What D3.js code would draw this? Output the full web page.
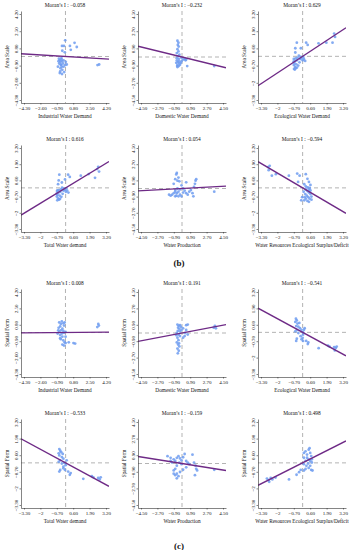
<!DOCTYPE html>
<html>
<head>
<meta charset="utf-8">
<script src="https://cdn.jsdelivr.net/npm/d3@7"></script>
<style>
  body { margin: 0; background: #fff; }
  svg text { font-family: "Liberation Serif", "Times New Roman", serif; fill: #111; }
  .axis path, .axis line { stroke: #333; stroke-width: 0.6; }
</style>
</head>
<body>
<div id="chart"></div>
<script>
// x variables, y variables and Moran's I values
var xNames = ["Industrial Water Demand", "Domestic Water Demand", "Ecological Water Demand",
  "Total Water demand", "Water Production", "Water Resources Ecological Surplus/Deficit"];
var yNames = ["Area Scale", "Spatial Form"];
var moranB = [-0.058, -0.232, 0.629, 0.616, 0.054, -0.594];
var moranC = [0.008, 0.191, -0.541, -0.533, -0.159, 0.498];

// tick values and their printed labels
var ticksA = [-4.3, -2.6, -0.9, 0.8, 2.5, 4.2];
var labelsA = ["\u22124.30", "\u22122.60", "\u22120.90", "0.80", "2.50", "4.20"];
var ticksB = [-4.5, -2.7, -0.9, 0.9, 2.7, 4.5];
var labelsB = ["\u22124.50", "\u22122.70", "\u22120.90", "0.90", "2.70", "4.50"];
var ticksC = [-3.3, -2, -0.7, 0.6, 1.9, 3.2];
var labelsC = ["\u22123.30", "\u22122", "\u22120.70", "0.60", "1.90", "3.20"];

// (b) Area Scale
var b_industrial = [[-0.36,1.04],[-0.16,1.04],[-0.03,1.6],[-0.33,0.57],[-0.07,0.41],[0.46,1.04],[0.55,0.66],
  [0.94,1.35],[1.17,0.94],[3.32,-0.85],[3.49,-0.79],[-0.68,-0.22],[-0.59,-0.38],[-0.52,-0.53],[-0.42,-0.28],
  [-0.65,-0.69],[-0.46,-0.85],[-0.36,-0.47],[-0.26,-0.69],[-0.78,-1.01],[-0.52,-1.16],[-0.33,-1.32],[-0.2,-1.01],
  [-0.03,-0.85],[0.13,-0.79],[-0.59,-1.64],[-0.36,-1.73],[-0.13,-1.54],[-0.42,-0.16],[-0.2,-0.38],[0.03,-0.53],
  [-0.55,-1.48],[-0.39,-1.01],[-0.72,-0.47],[-0.49,-0.79]];
var b_domestic = [[-0.5,1.7],[-0.39,1.5],[-0.46,1.26],[-0.36,1.09],[-0.5,0.82],[-0.39,0.58],[-0.57,0.41],
  [-0.29,0.24],[-0.46,0.07],[-0.36,-0.2],[-0.57,-0.37],[-0.43,-0.54],[-0.29,-0.68],[-0.5,-0.82],[-0.36,-0.95],
  [-0.22,-0.82],[-0.12,-0.61],[-0.05,-0.44],[0.12,-0.27],[0.29,-0.2],[0.39,-0.34],[0.46,-0.27],[0.57,-0.95],
  [-0.05,-0.1],[-0.57,-0.14],[-0.63,-0.61],[-0.53,-0.95],[-0.33,-0.44],[3.54,-0.95],[-0.5,-1.05]];
var b_ecological = [[2.5,1.72],[2.57,1.47],[2.37,1.03],[1.88,1.03],[1.26,0.98],[0.28,1.03],[0.4,0.86],
  [-0.46,1.03],[-0.58,0.61],[-0.14,0.61],[-0.58,0.29],[-0.7,-0.2],[-0.6,-0.35],[-0.65,-0.5],[-0.7,-0.65],
  [-0.6,-0.8],[-0.68,-0.95],[-0.55,-0.9],[-0.5,-0.6],[-0.45,-0.3],[-0.4,-0.1],[-0.3,0.05],[-0.2,-0.2],
  [-0.1,-0.15],[0,-0.3],[0.1,-0.2],[0.2,-0.35],[-0.25,-0.45],[-0.35,-0.7],[-0.55,-0.15],[-0.15,-0.05],
  [0.05,-0.05],[-0.45,-0.85],[-0.62,-1.0],[-0.72,-0.4]];
var b_total = [[2.58,1.69],[2.5,1.51],[2.65,1.31],[2.33,0.81],[1.83,1.11],[1.2,0.98],[0.2,1.06],[0.33,0.88],
  [-0.05,0.68],[-0.5,1.06],[-0.55,0.6],[-0.3,0.43],[-0.6,0.3],[-0.68,-0.25],[-0.58,-0.4],[-0.66,-0.55],
  [-0.7,-0.7],[-0.6,-0.85],[-0.66,-1.0],[-0.52,-0.95],[-0.48,-0.62],[-0.42,-0.32],[-0.38,-0.12],[-0.28,0.02],
  [-0.18,-0.22],[-0.08,-0.18],[0.02,-0.32],[0.12,-0.22],[0.22,-0.38],[-0.24,-0.48],[-0.34,-0.72],[-0.54,-0.18],
  [-0.12,-0.06],[0.06,-0.04],[-0.44,-0.88],[-0.64,-0.2],[-0.7,-0.45]];
var b_production = [[-0.57,1.73],[-0.63,1.56],[-0.39,1.21],[-0.74,1.04],[-0.5,0.87],[-0.29,0.8],[-0.91,0.52],
  [0.46,0.69],[-0.05,0.35],[0.12,0],[1.49,0.87],[1.56,1.04],[1.42,0.52],[1.32,0.17],[-1.42,-0.69],[-1.25,-0.8],
  [-1.08,-0.69],[-0.91,-0.52],[-0.74,-0.35],[-0.57,-0.52],[-0.39,-0.35],[-0.22,-0.69],[-0.05,-0.87],[0.12,-0.45],
  [0.29,-0.24],[0.46,-0.52],[0.63,-0.69],[0.8,-0.35],[0.98,-0.17],[1.15,-0.52],[1.25,-0.87],[-0.39,-0.87],
  [-0.63,-0.8],[-0.74,-0.87],[3.54,-0.35],[-0.22,-0.1],[-0.5,0],[-0.74,-0.17]];
var b_surplus = [[-2.74,1.67],[-2.61,1.77],[-2.69,1.42],[-2.44,0.98],[-2.12,1.1],[-1.09,0.98],[-0.43,1.15],
  [-0.24,0.98],[0.25,1.1],[-0.36,0.48],[0.38,0.73],[0.5,0.48],[0.13,0.29],[0.62,0.24],[0.25,-0.13],[0.38,-0.26],
  [0.5,-0.38],[0.21,-0.5],[0.33,-0.63],[0.45,-0.75],[0.55,-0.87],[0.25,-0.87],[0.13,-1.0],[0.38,-1.05],
  [0.62,-0.5],[0.7,-0.7],[0.5,-0.13],[0.08,-0.31],[-0.04,-0.75],[-0.11,-1.0],[0.62,-0.21],[0.25,0.11],
  [0.4,0.04],[0.57,-0.01],[0.16,-0.75],[0.5,-1.12],[0.7,-0.95]];

// (c) Spatial Form
var c_industrial = [[-0.65,1.05],[-0.48,0.89],[-0.38,1.15],[-0.22,0.95],[-0.09,1.05],[-0.15,0.72],[-0.55,0.63],
  [-0.71,0.49],[-0.32,0.39],[-0.48,0.23],[-0.65,0.07],[-0.81,-0.1],[-0.38,-0.1],[-0.15,-0.03],[-0.55,-0.26],
  [-0.32,-0.43],[-0.48,-0.69],[-0.22,-0.82],[-0.09,-1.02],[-0.32,-1.25],[-0.15,-1.35],[0.01,-1.09],[0.34,-1.02],
  [0.83,-1.09],[1.0,-1.15],[-0.55,-0.59],[0.01,-0.43],[-0.75,0.23],[3.4,0.89],[3.46,0.72],[3.3,0.56],
  [0.01,0.07],[-0.22,0.16]];
var c_domestic = [[-0.5,0.92],[-0.36,0.79],[-0.22,0.86],[-0.43,0.58],[-0.29,0.45],[-0.46,0.24],[-0.57,0],
  [-0.36,-0.17],[-0.22,-0.34],[-0.5,-0.51],[-0.39,-0.79],[-0.57,-1.03],[-0.43,-1.27],[-0.29,-1.47],[-0.5,-1.71],
  [-0.36,-1.95],[-0.46,-2.23],[-0.22,0.17],[-0.05,0.34],[0.12,0.51],[0.46,0.86],[0.63,0.92],[0.46,0.34],
  [0.36,0],[0.63,-0.17],[0.29,-0.34],[0.12,-0.51],[3.61,0.79],[3.72,0.51],[3.48,0.58],[-0.12,0.68],
  [-0.63,-0.24],[-0.33,-1.13]];
var c_ecological = [[-0.53,1.08],[-0.46,0.95],[-0.58,0.83],[-0.41,0.7],[-0.26,0.75],[-0.51,0.5],[-0.34,0.45],
  [-0.21,0.33],[-0.09,0.2],[-0.46,0.2],[-0.58,0.08],[-0.34,-0.05],[0.03,0],[0.16,0.33],[0.03,-0.18],
  [-0.16,-0.3],[-0.09,-0.55],[-0.46,-0.5],[-0.51,-0.68],[0.03,-0.68],[0.41,-0.93],[0.45,-0.8],[0.28,-0.68],
  [1.27,-1.25],[2.01,-1.05],[2.13,-1.13],[2.5,-1.18],[2.63,-1.23],[2.7,-1.13],[2.55,-1.43],[0,-0.43],[0.11,0.2]];
var c_total = [[-0.5,1.08],[-0.43,0.95],[-0.55,0.75],[-0.35,0.83],[-0.23,0.7],[-0.5,0.58],[-0.3,0.45],
  [-0.18,0.33],[-0.43,0.2],[-0.55,0.08],[-0.1,0],[0.08,0.2],[0,-0.18],[-0.18,-0.3],[-0.43,-0.55],[-0.5,-0.68],
  [-0.05,-0.55],[0.2,-0.68],[0.33,-0.93],[0.4,-0.8],[1.4,-1.25],[2.08,-1.05],[2.2,-1.13],[2.58,-1.18],
  [2.7,-1.3],[2.78,-1.13],[-0.18,-0.43],[-0.3,-0.05]];
var c_production = [[-1.59,0.79],[-1.25,0.62],[-0.91,0.45],[-0.74,0.27],[-0.57,0.62],[-0.39,0.79],[-0.22,0.55],
  [-0.05,0.34],[0.12,0.68],[0.29,1.03],[0.46,0.27],[0.63,0.1],[0.8,-0.07],[1.15,0.96],[1.32,0.1],[1.49,-0.24],
  [1.56,-0.58],[1.66,-0.75],[1.42,-1.27],[-0.57,-0.24],[-0.74,-0.58],[-0.91,-0.75],[-0.57,-1.1],[-0.74,-1.27],
  [-0.39,-1.37],[-0.57,-1.61],[-0.22,-0.92],[0.12,-0.68],[0.46,-0.41],[-0.05,-0.07],[-1.08,0.1],[3.54,-0.68],
  [-1.25,0.27],[-0.29,0.1],[-0.91,-1.1]];
var c_surplus = [[-2.83,-1.23],[-2.7,-1.35],[-2.53,-1.18],[-2.4,-1.3],[-2.65,-1.48],[-2.15,-1.15],[-1.08,-1.3],
  [-0.48,-0.93],[-0.28,-0.73],[-0.15,-0.55],[0.1,-0.6],[0.1,0.78],[0.23,0.9],[0.35,0.65],[0.48,1.03],
  [0.55,1.15],[0.6,0.78],[0.68,0.53],[0.35,0.4],[0.48,0.28],[0.23,0.15],[0.1,0.4],[0.6,0.15],[0.73,0.03],
  [0.43,-0.05],[0.3,-0.23],[0.6,-0.23],[0.73,0.28],[0.1,-0.1],[0.23,-0.48],[0.68,-0.55],[0.78,-0.6],[0.48,-0.4]];

var ticksFor = [ticksA, ticksB, ticksC, ticksC, ticksB, ticksC];
var labelsFor = [labelsA, labelsB, labelsC, labelsC, labelsB, labelsC];
var pointsB = [b_industrial, b_domestic, b_ecological, b_total, b_production, b_surplus];
var pointsC = [c_industrial, c_domestic, c_ecological, c_total, c_production, c_surplus];

var colX = [21, 138, 258], plotW = 88, pad = 3;
var rowTop = [11, 145, 289, 419], rowBottom = [103, 232, 377, 508];

var svg = d3.select("#chart").append("svg")
  .attr("width", 359)
  .attr("height", 550);

function fmtMoran(v) {
  return "Moran\u2019s I : " + (v < 0 ? "\u2212" : "") + Math.abs(v).toFixed(3);
}

function drawPanel(k, pts, moran, yName, row, id) {
  var col = k % 3, r = row + Math.floor(k / 3);
  var left = colX[col], top = rowTop[r], h = rowBottom[r] - top, w = plotW;
  var ticks = ticksFor[k], labels = labelsFor[k];
  var lo = ticks[0], hi = ticks[ticks.length - 1];
  var dx = (hi - lo) * pad / (w - 2 * pad), dy = (hi - lo) * pad / (h - 2 * pad);

  var x = d3.scaleLinear().domain([lo - dx, hi + dx]).range([0, w]);
  var y = d3.scaleLinear().domain([lo - dy, hi + dy]).range([h, 0]);

  var g = svg.append("g").attr("transform", "translate(" + left + "," + top + ")");

  g.append("clipPath").attr("id", "clip" + id)
    .append("rect").attr("width", w).attr("height", h);

  // quadrant lines at 0
  g.append("line").attr("x1", x(0)).attr("x2", x(0)).attr("y1", 0).attr("y2", h)
    .attr("stroke", "#aaa").attr("stroke-width", 0.9).attr("stroke-dasharray", "4,3");
  g.append("line").attr("x1", 0).attr("x2", w).attr("y1", y(0)).attr("y2", y(0))
    .attr("stroke", "#aaa").attr("stroke-width", 0.9).attr("stroke-dasharray", "4,3");

  g.append("g").attr("clip-path", "url(#clip" + id + ")")
    .selectAll("circle").data(pts).enter().append("circle")
    .attr("cx", function (d) { return x(d[0]); })
    .attr("cy", function (d) { return y(d[1]); })
    .attr("r", 1.4)
    .attr("fill", "#6f9cf0")
    .attr("fill-opacity", 0.85);

  // regression line, slope = Moran's I
  var line = d3.line()
    .x(function (d) { return x(d); })
    .y(function (d) { return y(moran * d); });
  g.append("path")
    .attr("clip-path", "url(#clip" + id + ")")
    .attr("d", line([lo - dx, hi + dx]))
    .attr("fill", "none")
    .attr("stroke", "#6e2a86")
    .attr("stroke-width", 1.4);

  var xAxis = d3.axisBottom(x).tickValues(ticks)
    .tickFormat(function (d, i) { return labels[i]; })
    .tickSize(1.5).tickSizeOuter(0);
  var yAxis = d3.axisLeft(y).tickValues(ticks)
    .tickFormat(function (d, i) { return labels[i]; })
    .tickSize(1.5).tickSizeOuter(0);

  var gx = g.append("g").attr("class", "axis")
    .attr("transform", "translate(0," + h + ")")
    .call(xAxis);
  gx.selectAll("text").attr("y", 3).attr("font-size", 5).attr("font-family", null);

  var gy = g.append("g").attr("class", "axis").call(yAxis);
  gy.selectAll("text")
    .attr("transform", "rotate(-90)")
    .attr("x", 0).attr("y", -3.5).attr("dy", 0)
    .attr("text-anchor", "middle")
    .attr("font-size", 5).attr("font-family", null);

  g.append("text").attr("x", w / 2).attr("y", -4)
    .attr("text-anchor", "middle").attr("font-size", 5.4)
    .text(fmtMoran(moran));

  g.append("text").attr("x", w / 2).attr("y", h + 15)
    .attr("text-anchor", "middle").attr("font-size", 5.3)
    .text(xNames[k]);

  g.append("text")
    .attr("transform", "translate(-12," + (h / 2) + ") rotate(-90)")
    .attr("text-anchor", "middle").attr("font-size", 5.3)
    .text(yName);
}

pointsB.forEach(function (pts, k) { drawPanel(k, pts, moranB[k], yNames[0], 0, "b" + k); });
pointsC.forEach(function (pts, k) { drawPanel(k, pts, moranC[k], yNames[1], 2, "c" + k); });

svg.append("text").attr("x", 179).attr("y", 266)
  .attr("text-anchor", "middle").attr("font-size", 9).attr("font-weight", "bold")
  .text("(b)");
svg.append("text").attr("x", 179).attr("y", 549)
  .attr("text-anchor", "middle").attr("font-size", 9).attr("font-weight", "bold")
  .text("(c)");
</script>
</body>
</html>
